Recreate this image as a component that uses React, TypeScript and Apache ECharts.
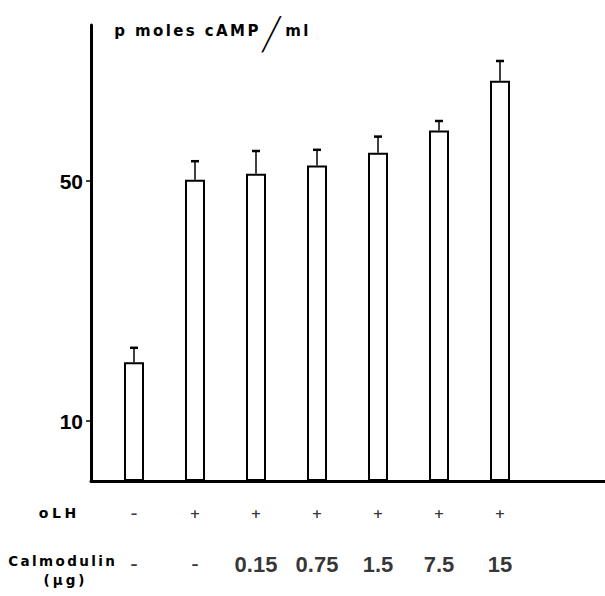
import React, { useEffect, useRef } from "react";
import * as echarts from "echarts";

// ---- data ----
const oLH = ["–", "+", "+", "+", "+", "+", "+"];
const calmodulin = ["–", "–", "0.15", "0.75", "1.5", "7.5", "15"];
const cAMP = [19.8, 50.2, 51.2, 52.6, 54.7, 58.4, 66.7];
const sem = [2.4, 3.1, 3.8, 2.6, 2.7, 1.6, 3.3];
const yTicks = [10, 50];

const BOLD = "'Liberation Sans', 'DejaVu Sans', sans-serif";
const WIDE = "'DejaVu Sans', 'Liberation Sans', sans-serif";

function track(text: string, style: string): string {
  return text
    .split("")
    .map((c) => `{${style}|${c}}`)
    .join("");
}

export default function App() {
  const ref = useRef<HTMLDivElement>(null);

  useEffect(() => {
    if (!ref.current) return;
    const chart = echarts.init(ref.current, undefined, { renderer: "svg" });

    const idx = cAMP.map((_, i) => i);

    const option: any = {
      animation: false,
      backgroundColor: "#fff",
      title: {
        left: 108,
        top: 2,
        text: track("p moles cAMP", "t") + "{sl|/}" + track("ml", "t"),
        textStyle: {
          rich: {
            t: {
              fontFamily: WIDE,
              fontWeight: "bold",
              fontSize: 15,
              color: "#000",
              padding: [0, 1.2],
              lineHeight: 48,
            },
            sl: {
              fontFamily: "Lato, 'DejaVu Sans', sans-serif",
              fontStyle: "italic",
              fontWeight: 300,
              fontSize: 48,
              color: "#000",
              lineHeight: 48,
              padding: [0, 3, 0, 2],
            },
          },
        },
      },
      grid: { left: 91, right: 0, top: 25, bottom: 115, containLabel: false },
      xAxis: {
        type: "value",
        min: -43 / 61,
        max: 471 / 61,
        axisLine: { show: true, onZero: false, lineStyle: { color: "#000", width: 3 } },
        axisTick: { show: false },
        axisLabel: { show: false },
        splitLine: { show: false },
      },
      yAxis: {
        type: "value",
        min: 0,
        max: 76,
        axisLine: { show: true, onZero: false, lineStyle: { color: "#000", width: 3 } },
        axisTick: {
          show: true,
          customValues: yTicks,
          length: 5,
          lineStyle: { color: "#000", width: 1.5 },
        },
        axisLabel: {
          show: true,
          customValues: yTicks,
          margin: 8,
          color: "#000",
          fontFamily: BOLD,
          fontWeight: "bold",
          fontSize: 21,
        },
        splitLine: { show: false },
      },
      series: [
        {
          type: "bar",
          data: cAMP.map((v, i) => [i, v]),
          barWidth: 20,
          itemStyle: { color: "#fff", borderColor: "#000", borderWidth: 2 },
          silent: true,
        },
        {
          type: "custom",
          data: cAMP.map((v, i) => [i, v, sem[i]]),
          encode: { x: 0, y: 1 },
          silent: true,
          renderItem: (_p: any, api: any) => {
            const i = api.value(0);
            const m = api.value(1);
            const e = api.value(2);
            const a = api.coord([i, m]);
            const b = api.coord([i, m + e]);
            return {
              type: "group",
              children: [
                {
                  type: "line",
                  shape: { x1: a[0], y1: a[1], x2: b[0], y2: b[1] },
                  style: { stroke: "#000", lineWidth: 1.5 },
                },
                {
                  type: "line",
                  shape: { x1: b[0] - 4, y1: b[1], x2: b[0] + 4, y2: b[1] },
                  style: { stroke: "#000", lineWidth: 2.5 },
                },
              ],
            };
          },
        },
        {
          type: "scatter",
          data: idx.map((i) => [i, 0]),
          symbolSize: 0,
          silent: true,
          itemStyle: { color: "#000" },
          label: {
            show: true,
            position: "inside",
            offset: [0, 32],
            formatter: (p: any) => oLH[p.dataIndex],
            color: "#000",
            textBorderWidth: 0,
            fontFamily: WIDE,
            fontWeight: "bold",
            fontSize: 13,
          },
        },
        {
          type: "scatter",
          data: idx.map((i) => [i, 0]),
          symbolSize: 0,
          silent: true,
          itemStyle: { color: "#000" },
          label: {
            show: true,
            position: "inside",
            offset: [0, 83],
            textBorderWidth: 0,
            formatter: (p: any) => {
              const v = calmodulin[p.dataIndex];
              return v === "–" ? `{s|${v}}` : `{n|${v}}`;
            },
            rich: {
              s: { color: "#000", fontFamily: WIDE, fontWeight: "bold", fontSize: 14, textBorderWidth: 0 },
              n: { color: "#000", fontFamily: BOLD, fontWeight: "bold", fontSize: 22, textBorderWidth: 0 },
            },
          },
        },
      ],
      graphic: [
        {
          type: "text",
          x: 37,
          y: 513,
          style: {
            text: track("oLH", "r"),
            verticalAlign: "middle",
            align: "left",
            rich: {
              r: { fontFamily: WIDE, fontWeight: "bold", fontSize: 14, fill: "#000", padding: [0, 1.8] },
            },
          },
        },
        {
          type: "text",
          x: 7,
          y: 561,
          style: {
            text: track("Calmodulin", "r"),
            verticalAlign: "middle",
            align: "left",
            rich: {
              r: { fontFamily: WIDE, fontWeight: "bold", fontSize: 13.5, fill: "#000", padding: [0, 1.2] },
            },
          },
        },
        {
          type: "text",
          x: 64,
          y: 580,
          style: {
            text: track("(μg)", "r"),
            verticalAlign: "middle",
            align: "center",
            rich: {
              r: { fontFamily: WIDE, fontWeight: "bold", fontSize: 13.5, fill: "#000", padding: [0, 1.5] },
            },
          },
        },
      ],
    };

    chart.setOption(option);
    return () => chart.dispose();
  }, []);

  return (
    <div
      ref={ref}
      style={{ position: "absolute", left: 0, top: 0, width: 605, height: 596, background: "#fff" }}
    />
  );
}
